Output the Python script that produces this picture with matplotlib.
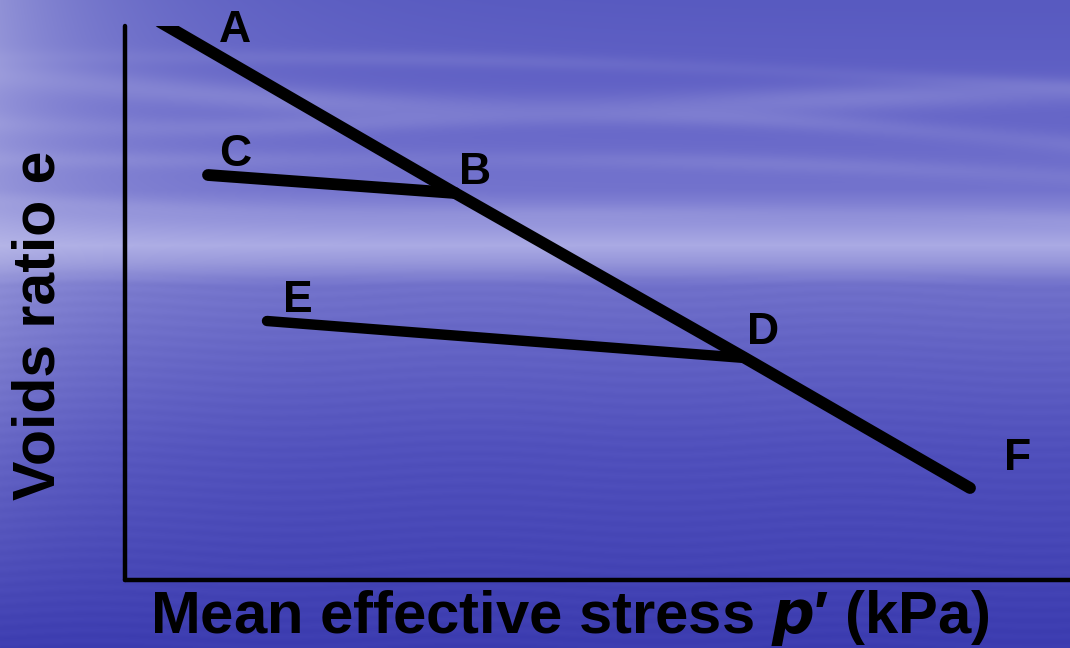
import numpy as np
import matplotlib
matplotlib.use("Agg")
import matplotlib.pyplot as plt

# Idealised e - p' paths (arbitrary units)
# Normal compression line A -> B -> D -> F
ncl_p = [0.35, 3.30, 6.20, 8.45]
ncl_e = [5.58, 3.87, 2.22, 0.92]
# Unloading line B -> C
unload1_p = [3.30, 0.83]
unload1_e = [3.87, 4.05]
# Unloading line D -> E
unload2_p = [6.20, 1.42]
unload2_e = [2.22, 2.59]

point_labels = ["A", "B", "C", "D", "E", "F"]
label_p = [1.10, 3.50, 1.10, 6.38, 1.73, 8.93]
label_e = [5.50, 4.07, 4.25, 2.48, 2.80, 1.22]

W, H, DPI = 1070, 648, 100
fig = plt.figure(figsize=(W / DPI, H / DPI), dpi=DPI)

# ---- sky / sea backdrop ----
yy, xx = np.mgrid[0:H, 0:W].astype(float)
stops_y = [0, 100, 190, 225, 245, 262, 285, 350, 450, 648]
stops_c = np.array([
    [88, 90, 192], [98, 98, 198], [115, 115, 205], [150, 150, 220],
    [170, 170, 228], [150, 150, 218], [112, 112, 202], [98, 98, 196],
    [80, 80, 188], [60, 60, 176]], float)
bg = np.stack([np.interp(yy, stops_y, stops_c[:, k]) for k in range(3)], axis=-1)

light = np.array([185, 185, 230], float)
# drifting cloud streaks in the sky
sky = np.clip((250 - yy) / 30.0, 0, 1)
for yc, amp, per, ph, w, s in [(75, 18, 260, 0.0, 14, 0.30),
                              (110, 14, 210, 1.3, 10, 0.22),
                              (150, 10, 300, 2.1, 9, 0.18),
                              (195, 8, 240, 0.6, 8, 0.15),
                              (55, 10, 330, 3.0, 8, 0.15)]:
    centre = yc + 0.03 * xx + amp * np.sin(xx / per + ph)
    band = np.exp(-((yy - centre) / w) ** 2)
    band *= 0.6 + 0.4 * np.sin(xx / (per * 0.7) + ph * 2) ** 2
    m = (s * band * sky)[..., None]
    bg = bg * (1 - m) + light * m
# haze on the left side
haze = (np.exp(-xx / 140.0) * np.clip(1.1 - yy / 600.0, 0, 1) * 0.5)[..., None]
bg = bg * (1 - haze) + np.array([200, 200, 236], float) * haze
# faint texture on the water
sea = np.clip((yy - 262) / 20.0, 0, 1)
ripple = 1.5 * np.sin(yy / 1.7 + 2 * np.sin(xx / 60.0)) * sea
bg = np.clip(bg + ripple[..., None], 0, 255)

bax = fig.add_axes([0, 0, 1, 1], zorder=0)
bax.imshow(bg.astype(np.uint8), aspect="auto", interpolation="bilinear")
bax.set_axis_off()

# ---- plot axes ----
left, bottom = 125 / W, (H - 580) / H
ax = fig.add_axes([left, bottom, 1 - left, 554 / H], zorder=1)
ax.patch.set_alpha(0)
ax.set_xlim(0, 9.45)
ax.set_ylim(0, 5.54)
for side in ("top", "right"):
    ax.spines[side].set_visible(False)
for side in ("left", "bottom"):
    ax.spines[side].set_linewidth(3.2)
    ax.spines[side].set_color("black")
    ax.spines[side].set_capstyle("round")
ax.set_xticks([])
ax.set_yticks([])

lw = 8.5
ax.plot(ncl_p, ncl_e, color="black", lw=lw, solid_capstyle="round")
ax.plot(unload1_p, unload1_e, color="black", lw=lw, solid_capstyle="round")
ax.plot(unload2_p, unload2_e, color="black", lw=7.5, solid_capstyle="round")

for name, px, ey in zip(point_labels, label_p, label_e):
    ax.text(px, ey, name, fontsize=32, fontweight="bold", family="Liberation Sans",
            ha="center", va="center", color="black", clip_on=False)

fig.text(0.533, 0.046, "Mean effective stress $\\boldsymbol{p}$\u2032 (kPa)",
         fontsize=43, fontweight="bold", family="Liberation Sans",
         ha="center", va="center", color="black")
fig.text(0.036, 0.498, "Voids ratio e", rotation=90,
         fontsize=42.5, fontweight="bold", family="Liberation Sans",
         ha="center", va="center", color="black")

fig.savefig("out.png", dpi=DPI)
